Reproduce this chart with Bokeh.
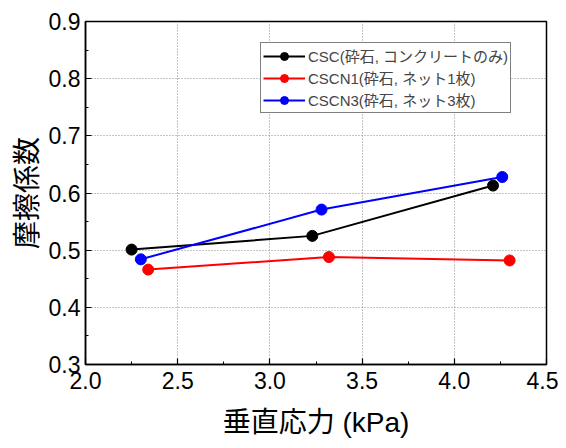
from bokeh.plotting import figure
from bokeh.models import Range1d, SingleIntervalTicker, PrintfTickFormatter, Legend, LegendItem
from bokeh.embed import file_html
from bokeh.resources import INLINE

# Data
csc_x = [2.25, 3.23, 4.21]
csc_y = [0.501, 0.525, 0.613]
cscn1_x = [2.34, 3.32, 4.30]
cscn1_y = [0.466, 0.488, 0.482]
cscn3_x = [2.30, 3.28, 4.26]
cscn3_y = [0.484, 0.571, 0.628]
labels = ["CSC(砕石, コンクリートのみ)", "CSCN1(砕石, ネット1枚)", "CSCN3(砕石, ネット3枚)"]
colors = ["#000000", "#ff0000", "#0000ff"]

LAT = '"Liberation Sans", "Noto Sans CJK JP"'

p = figure(width=558, height=440, output_backend="svg", toolbar_location=None,
           x_range=Range1d(2.0, 4.5), y_range=Range1d(0.3, 0.9),
           min_border_left=85, min_border_right=12, min_border_top=21, min_border_bottom=75)
p.outline_line_color = "black"
p.outline_line_width = 1.5
p.background_fill_color = "white"
p.border_fill_color = "white"

p.xaxis.ticker = SingleIntervalTicker(interval=0.5, num_minor_ticks=2)
p.yaxis.ticker = SingleIntervalTicker(interval=0.1, num_minor_ticks=2)
p.xaxis.formatter = PrintfTickFormatter(format="%.1f")
p.yaxis.formatter = PrintfTickFormatter(format="%.1f")

for ax in (p.xaxis, p.yaxis):
    ax.major_tick_in = 6
    ax.major_tick_out = 0
    ax.minor_tick_in = 3
    ax.minor_tick_out = 0
    ax.axis_line_color = "black"
    ax.axis_line_width = 1.5
    ax.major_tick_line_width = 1.2
    ax.major_label_text_font = LAT
    ax.major_label_text_font_size = "23px"
    ax.major_label_text_color = "black"
    ax.axis_label_text_font = LAT
    ax.axis_label_text_font_size = "28px"
    ax.axis_label_text_font_style = "normal"
    ax.axis_label_text_color = "black"

p.xaxis.axis_label = "垂直応力 (kPa)"
p.yaxis.axis_label = "摩擦係数"
p.xaxis.major_label_standoff = 7
p.yaxis.major_label_standoff = 5
p.xaxis.axis_label_standoff = 15
p.yaxis.axis_label_standoff = 3

p.grid.grid_line_color = "#888888"
p.grid.grid_line_dash = "1 2"
p.grid.grid_line_width = 1

items = []
for xs, ys, c, lab in zip([csc_x, cscn1_x, cscn3_x], [csc_y, cscn1_y, cscn3_y], colors, labels):
    r1 = p.line(xs, ys, line_color=c, line_width=2)
    r2 = p.scatter(xs, ys, size=11, fill_color=c, line_color=c)
    items.append(LegendItem(label=lab, renderers=[r1, r2]))

legend = Legend(items=items, location=(175, 251), glyph_width=42, glyph_height=20,
                label_text_font=LAT, label_text_font_size="15px", label_standoff=3,
                spacing=1, padding=2, margin=0, border_line_color="black",
                border_line_width=1.2, label_height=20)
p.add_layout(legend, "center")

open("out.html", "w").write(file_html(p, INLINE))
